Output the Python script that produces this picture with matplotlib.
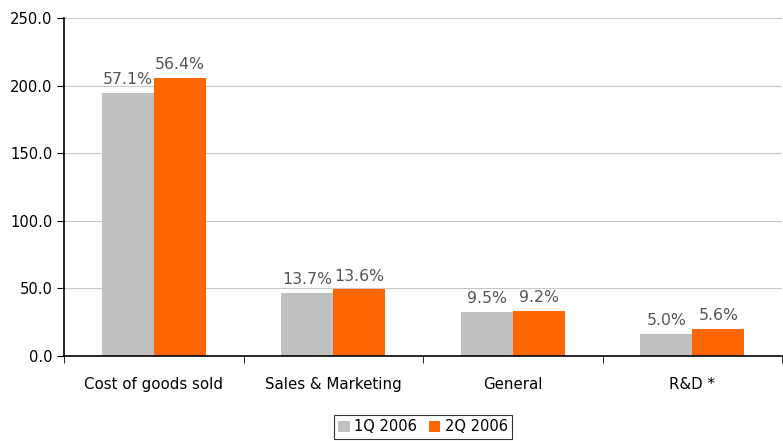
import matplotlib.pyplot as plt
import numpy as np

categories = ["Cost of goods sold", "Sales & Marketing", "General", "R&D *"]
q1_values = [195.0, 46.9, 32.8, 16.5]
q2_values = [205.9, 49.6, 33.6, 20.2]
q1_pct = ["57.1%", "13.7%", "9.5%", "5.0%"]
q2_pct = ["56.4%", "13.6%", "9.2%", "5.6%"]
series = ["1Q 2006", "2Q 2006"]


def main():
    plt.rcParams['font.family'] = ['DejaVu Sans']
    fig = plt.figure(figsize=(7.83, 4.41), dpi=100)
    ax = fig.add_axes([64 / 783, 1 - 356 / 441, 718 / 783, 337.7 / 441])

    x = np.arange(len(categories))
    width = 0.29
    bars1 = ax.bar(x - width / 2, q1_values, width, color='#c0c0c0', label=series[0])
    bars2 = ax.bar(x + width / 2, q2_values, width, color='#ff6600', label=series[1])

    # percentage labels above each bar
    for bars, labels in [(bars1, q1_pct), (bars2, q2_pct)]:
        for bar, lab in zip(bars, labels):
            ax.text(bar.get_x() + bar.get_width() / 2, bar.get_height() + 4, lab,
                    ha='center', va='bottom', fontsize=11.3, color='#555555')

    ax.set_xlim(-0.5, len(categories) - 0.5)
    ax.set_ylim(0, 250)
    ax.set_yticks(np.arange(0, 251, 50))
    ax.set_yticklabels([f"{v:.1f}" for v in np.arange(0, 251, 50)], fontsize=10.6)
    ax.yaxis.grid(True, color='#c8c8c8', linewidth=0.8)
    ax.set_axisbelow(True)

    ax.set_xticks(x)
    ax.set_xticklabels(categories, fontsize=10.8)
    ax.set_xticks(np.arange(-0.5, len(categories), 1), minor=True)
    ax.tick_params(axis='x', which='major', length=0, pad=15)
    ax.tick_params(axis='x', which='minor', length=5, direction='out')
    ax.tick_params(axis='y', length=5, direction='out')

    for side in ['top', 'right']:
        ax.spines[side].set_visible(False)
    ax.spines['left'].set_linewidth(1.2)
    ax.spines['bottom'].set_linewidth(1.2)

    leg = ax.legend(loc='upper center', bbox_to_anchor=(0.5, -0.175), ncol=2,
                    frameon=True, fancybox=False, fontsize=10.5, handlelength=0.8,
                    handleheight=0.8, handletextpad=0.3, columnspacing=0.8,
                    borderpad=0.3, borderaxespad=0)
    leg.get_frame().set_edgecolor('black')
    leg.get_frame().set_linewidth(0.8)

    fig.savefig('out.png', dpi=100)
    plt.close(fig)


if __name__ == '__main__':
    main()
